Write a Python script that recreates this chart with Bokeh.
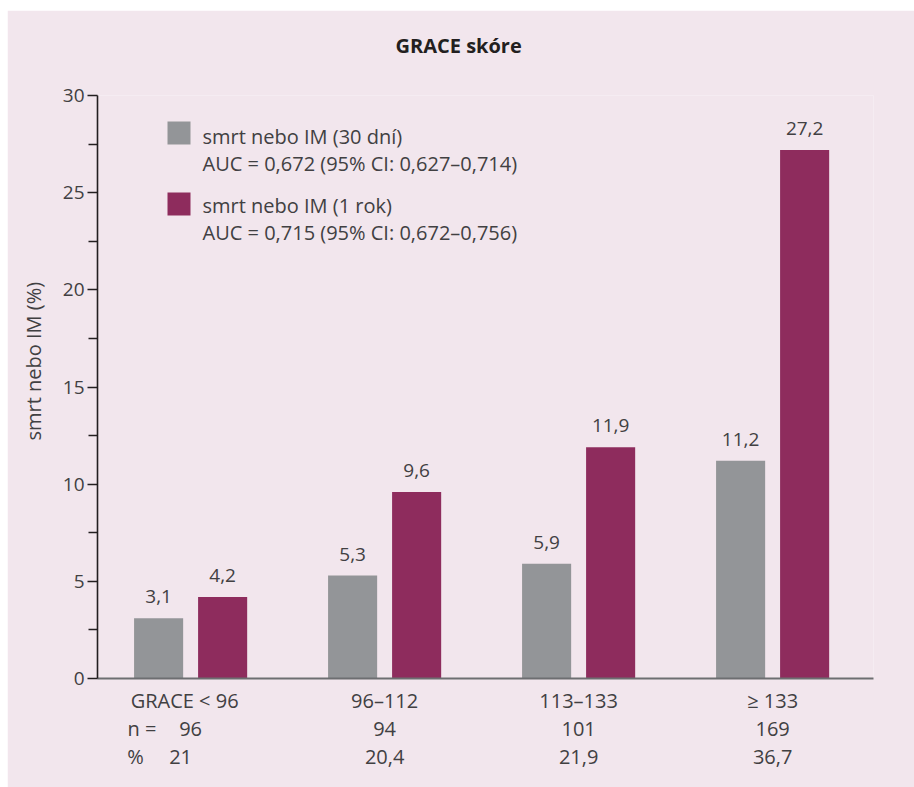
import numpy as np
from bokeh.plotting import figure
from bokeh.models import (ColumnDataSource, LabelSet, Label, Range1d, FixedTicker,
                          LinearAxis, Title)
from bokeh.core.properties import value
from bokeh.embed import file_html
from bokeh.resources import INLINE

# ---------------- data ----------------
categories = ["GRACE < 96", "96–112", "113–133", "≥ 133"]
death_mi_30d = [3.1, 5.3, 5.9, 11.2]
death_mi_1y = [4.2, 9.6, 11.9, 27.2]
n_patients = ["96", "94", "101", "169"]
pct_patients = ["21", "20,4", "21,9", "36,7"]
series_names = ["smrt nebo IM (30 dní)", "smrt nebo IM (1 rok)"]
auc_texts = ["AUC = 0,672 (95% CI: 0,627–0,714)", "AUC = 0,715 (95% CI: 0,672–0,756)"]
row_prefixes = ["n =", "%"]
y_ticks = [0, 5, 10, 15, 20, 25, 30]
y_minor_ticks = [2.5, 7.5, 12.5, 17.5, 22.5, 27.5]
title_text = "GRACE skóre"
y_title = "smrt nebo IM (%)"

# ---------------- style ----------------
BG = "#F2E6ED"
GRAY = "#939598"
MAGENTA = "#8E2C5D"
TXT = "#414042"
DARK = "#231F20"
FONT = "Open Sans"

MX, MY = 7, 10              # white page margin left / top
W, H = 914 - MX, 787 - MY
LEFT, RIGHT_B, TOP, BOTTOM = 90, 41, 85, 109
X0, X1 = 0.52, 4.52
Y0, Y1 = 0, 30
frame_w = W - LEFT - RIGHT_B
frame_h = H - TOP - BOTTOM

# helpers: page pixel -> data coordinates (for decorations only)
def dx(px):
    return X0 + (px - MX - LEFT) * (X1 - X0) / frame_w

def dy(py):
    return Y0 + (MY + TOP + frame_h - py) * (Y1 - Y0) / frame_h

p = figure(width=W, height=H, output_backend="svg", toolbar_location=None,
           x_range=Range1d(X0, X1), y_range=Range1d(Y0, Y1),
           min_border_left=LEFT, min_border_right=RIGHT_B,
           min_border_top=TOP, min_border_bottom=BOTTOM,
           background_fill_color=BG, border_fill_color=BG,
           outline_line_color=None)
p.margin = (MY, 0, 0, MX)
p.grid.visible = False

xs = np.arange(1, len(categories) + 1)
off = 0.165
bw = 0.253
fmt = lambda v: f"{v:.1f}".replace(".", ",")

src = ColumnDataSource(dict(
    x30=xs - off, x1y=xs + off,
    v30=death_mi_30d, v1y=death_mi_1y,
    l30=[fmt(v) for v in death_mi_30d], l1y=[fmt(v) for v in death_mi_1y],
))

p.vbar(x="x30", top="v30", width=bw, source=src, color=GRAY, line_color=None)
p.vbar(x="x1y", top="v1y", width=bw, source=src, color=MAGENTA, line_color=None)

for xcol, lcol, ycol in [("x30", "l30", "v30"), ("x1y", "l1y", "v1y")]:
    p.add_layout(LabelSet(x=xcol, y=ycol, text=lcol, source=src, y_offset=15,
                          text_align="center", text_baseline="alphabetic",
                          text_font=value(FONT), text_font_size="19px", text_color=TXT))

# ---------------- y axis ----------------
yax = p.yaxis[0]
yax.ticker = FixedTicker(ticks=y_ticks, minor_ticks=y_minor_ticks)
yax.axis_line_color = DARK
yax.axis_line_width = 1.6
yax.major_tick_line_color = DARK
yax.minor_tick_line_color = DARK
yax.major_tick_line_width = 1.3
yax.minor_tick_line_width = 1.3
yax.major_tick_out = 10
yax.major_tick_in = 0
yax.minor_tick_out = 9
yax.minor_tick_in = 0
yax.major_label_standoff = 3
yax.major_label_text_font = FONT
yax.major_label_text_font_size = "19px"
yax.major_label_text_color = TXT

p.add_layout(Title(text=y_title, align="left", offset=238, vertical_align="middle",
                   standoff=23, text_font=FONT, text_font_style="normal",
                   text_font_size="20px", text_color=TXT), "left")

# ---------------- x axes (category rows) ----------------
def rnd(v):
    return round(float(v), 4)

cat_pos = [rnd(x) for x in xs]
cat_pos[0] = rnd(xs[0] - 6 * (X1 - X0) / frame_w)
pct_pos = [rnd(x) for x in xs]
pct_pos[0] = rnd(xs[0] - 10 * (X1 - X0) / frame_w)
n_pos = [rnd(x) for x in xs]
prefix_pos = [rnd(dx(141.5)), rnd(dx(135))]

def style_axis(ax, standoff):
    ax.major_tick_line_color = None
    ax.minor_tick_line_color = None
    ax.major_tick_out = 0
    ax.major_tick_in = 0
    ax.major_label_standoff = standoff
    ax.major_label_text_font = FONT
    ax.major_label_text_font_size = "20px"
    ax.major_label_text_color = TXT

xax = p.xaxis[0]
xax.ticker = FixedTicker(ticks=cat_pos)
xax.major_label_overrides = dict(zip(cat_pos, categories))
xax.axis_line_color = "#6D6E71"
xax.axis_line_width = 2
style_axis(xax, 8)

ax_n = LinearAxis(ticker=FixedTicker(ticks=[prefix_pos[0]] + n_pos),
                  major_label_overrides=dict(zip([prefix_pos[0]] + n_pos,
                                                 [row_prefixes[0]] + n_patients)),
                  axis_line_color=None)
style_axis(ax_n, -2)
p.add_layout(ax_n, "below")

ax_p = LinearAxis(ticker=FixedTicker(ticks=[prefix_pos[1]] + pct_pos),
                  major_label_overrides=dict(zip([prefix_pos[1]] + pct_pos,
                                                 [row_prefixes[1]] + pct_patients)),
                  axis_line_color=None)
style_axis(ax_p, -2)
p.add_layout(ax_p, "below")

# spacer between frame and title (blank title row)
p.add_layout(Title(text=" ", standoff=7, text_font=FONT, text_font_size="20px"), "above")

# ---------------- title ----------------
p.title.text = title_text
p.title.align = "left"
p.title.offset = 298
p.title.vertical_align = "middle"
p.title.standoff = 0
p.title.text_font = FONT
p.title.text_font_style = "bold"
p.title.text_font_size = "20px"
p.title.text_color = DARK

# ---------------- legend (manual) ----------------
p.scatter(x=[dx(178.5)] * 2, y=[dy(132.5), dy(203.5)], marker="square", size=23,
          color=[GRAY, MAGENTA], line_color=None)
for name, auc, py1, py2 in [(series_names[0], auc_texts[0], 136, 163),
                            (series_names[1], auc_texts[1], 205, 232)]:
    p.add_layout(Label(x=dx(202), y=dy(py1), text=name, text_align="left", text_baseline="middle",
                       text_font=FONT, text_font_size="20px", text_color=TXT))
    p.add_layout(Label(x=dx(202), y=dy(py2), text=auc, text_align="left", text_baseline="middle",
                       text_font=FONT, text_font_size="20px", text_color=TXT))

open("out.html", "w").write(file_html(p, INLINE))
